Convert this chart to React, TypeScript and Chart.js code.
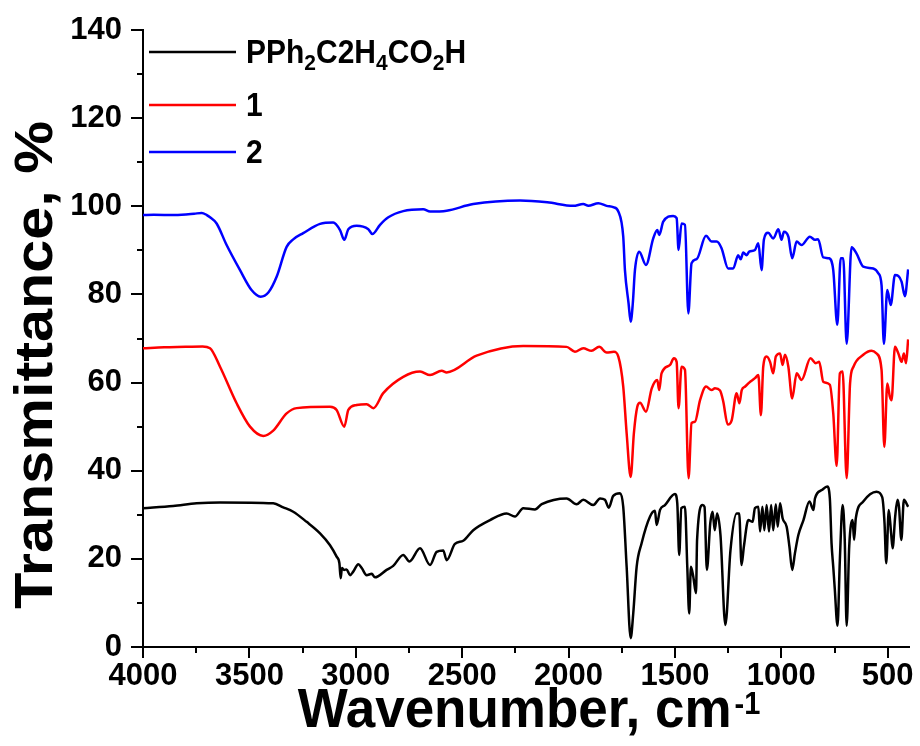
import { useEffect, useRef } from "react";
import { Chart, registerables } from "chart.js";

Chart.register(...registerables);

const FONT = '"Liberation Sans", Arial, Helvetica, sans-serif';

// ---- data (wavenumber, cm-1 / transmittance, %) ----
const waveBlack = [4000, 3858, 3748, 3638, 3388, 3341, 3294, 3231, 3168, 3121, 3090, 3077, 3071, 3065, 3055, 3043, 3027, 3012, 2988, 2972, 2949, 2925, 2910, 2855, 2824, 2777, 2748, 2698, 2651, 2620, 2589, 2573, 2534, 2495, 2448, 2369, 2291, 2252, 2213, 2158, 2126, 2009, 1962, 1931, 1884, 1852, 1829, 1811, 1790, 1758, 1743, 1727, 1708, 1696, 1680, 1657, 1617, 1594, 1586, 1570, 1547, 1500, 1489, 1480, 1470, 1453, 1442, 1433, 1425, 1414, 1401, 1396, 1370, 1361, 1350, 1334, 1323, 1313, 1302, 1286, 1263, 1239, 1210, 1198, 1187, 1176, 1155, 1135, 1124, 1108, 1100, 1089, 1080, 1069, 1058, 1048, 1038, 1026, 1017, 1006, 994, 975, 962, 949, 936, 920, 896, 868, 849, 842, 810, 784, 772, 764, 756, 749, 736, 725, 712, 702, 693, 681, 665, 658, 650, 615, 553, 526, 515, 507, 495, 484, 477, 465, 454, 447, 436, 424, 404];
const transBlack = [31.5, 32.0, 32.6, 32.8, 32.6, 31.7, 30.7, 28.4, 25.8, 23.1, 20.5, 19.0, 15.6, 17.9, 17.5, 17.6, 16.3, 17.1, 18.8, 17.9, 16.3, 16.6, 15.8, 17.5, 18.4, 20.9, 19.4, 22.4, 18.6, 21.6, 21.9, 19.7, 23.4, 24.1, 26.5, 28.8, 30.3, 29.6, 31.5, 31.2, 32.4, 33.7, 32.4, 33.4, 32.2, 33.7, 33.4, 31.6, 34.3, 34.9, 31.8, 18.2, 2.0, 7.6, 18.2, 23.5, 29.6, 30.9, 27.7, 31.1, 32.2, 34.7, 32.6, 20.9, 31.5, 31.8, 18.2, 7.6, 18.2, 16.0, 12.2, 24.3, 32.2, 31.8, 17.5, 28.1, 30.7, 26.5, 30.3, 25.4, 5.0, 22.0, 30.3, 30.3, 18.6, 22.8, 28.8, 28.4, 31.5, 31.8, 26.2, 31.8, 26.5, 32.2, 26.2, 32.2, 26.5, 32.4, 27.3, 32.6, 29.2, 27.3, 22.8, 17.5, 21.3, 25.4, 28.8, 33.0, 31.1, 33.7, 35.6, 36.4, 33.7, 23.5, 18.2, 13.3, 4.8, 19.7, 32.2, 24.3, 4.8, 22.8, 28.8, 24.3, 29.2, 33.0, 35.2, 34.0, 28.1, 19.0, 31.1, 25.8, 22.4, 29.6, 33.4, 31.8, 24.3, 33.4, 31.8];

const waveRed = [4000, 3900, 3800, 3720, 3685, 3638, 3560, 3497, 3435, 3388, 3325, 3278, 3121, 3090, 3054, 3035, 2996, 2949, 2917, 2871, 2777, 2698, 2651, 2596, 2573, 2432, 2213, 2009, 1970, 1931, 1892, 1856, 1821, 1787, 1766, 1743, 1727, 1708, 1693, 1677, 1664, 1636, 1609, 1583, 1574, 1563, 1523, 1505, 1492, 1483, 1469, 1453, 1436, 1422, 1406, 1382, 1354, 1328, 1312, 1288, 1273, 1252, 1233, 1210, 1197, 1186, 1170, 1151, 1124, 1108, 1096, 1085, 1069, 1053, 1038, 1026, 1006, 994, 983, 967, 949, 928, 905, 863, 838, 822, 803, 772, 756, 740, 725, 712, 693, 677, 661, 615, 576, 553, 529, 516, 502, 490, 482, 466, 450, 435, 424, 414, 404];
const transRed = [67.8, 68.0, 68.1, 68.2, 67.8, 63.6, 55.3, 50.0, 47.9, 49.1, 53.0, 54.2, 54.5, 53.8, 50.0, 53.8, 54.9, 55.1, 54.2, 57.6, 61.3, 62.5, 61.7, 62.7, 62.3, 66.1, 68.3, 68.1, 67.0, 67.8, 67.2, 68.1, 66.8, 67.0, 65.9, 59.1, 48.5, 38.6, 48.5, 54.5, 55.4, 53.4, 58.7, 60.6, 58.3, 62.1, 64.0, 65.5, 64.7, 54.2, 63.6, 62.9, 38.3, 50.8, 51.1, 56.0, 59.1, 58.3, 58.7, 58.2, 55.7, 50.5, 51.5, 57.6, 55.3, 58.3, 59.1, 60.0, 61.0, 61.7, 52.6, 63.6, 65.9, 64.7, 62.1, 65.9, 66.6, 64.0, 66.3, 63.6, 56.4, 62.1, 60.6, 65.5, 64.4, 64.7, 60.2, 59.5, 53.0, 41.1, 62.1, 62.5, 38.3, 59.8, 63.6, 66.3, 67.2, 66.6, 62.9, 45.4, 59.8, 56.8, 56.0, 68.1, 66.6, 64.7, 66.6, 64.4, 69.8];

const waveBlue = [4000, 3950, 3850, 3760, 3724, 3700, 3685, 3654, 3607, 3544, 3490, 3447, 3410, 3372, 3325, 3294, 3247, 3168, 3106, 3074, 3054, 3035, 2996, 2941, 2922, 2886, 2847, 2777, 2683, 2651, 2573, 2448, 2228, 2100, 1978, 1931, 1907, 1860, 1821, 1790, 1766, 1743, 1735, 1718, 1708, 1698, 1688, 1668, 1636, 1602, 1583, 1574, 1555, 1508, 1492, 1483, 1469, 1453, 1437, 1422, 1398, 1354, 1328, 1304, 1281, 1250, 1226, 1203, 1191, 1179, 1163, 1151, 1124, 1108, 1093, 1082, 1062, 1038, 1014, 999, 988, 967, 949, 928, 905, 866, 842, 827, 803, 775, 756, 737, 721, 709, 693, 670, 647, 615, 568, 544, 529, 518, 502, 486, 466, 450, 435, 419, 404];
const transBlue = [98.0, 98.1, 98.0, 98.3, 98.5, 98.0, 97.5, 96.1, 91.2, 85.5, 81.0, 79.5, 80.5, 84.0, 90.8, 92.5, 93.9, 96.0, 96.3, 94.6, 92.4, 94.8, 95.6, 94.8, 93.7, 95.8, 97.5, 98.9, 99.3, 98.8, 99.0, 100.5, 101.3, 100.9, 100.1, 100.5, 100.1, 100.7, 100.1, 99.8, 98.8, 93.1, 85.5, 78.0, 73.8, 78.0, 85.5, 89.7, 86.7, 92.7, 94.6, 93.5, 96.5, 97.8, 97.3, 90.1, 96.1, 95.8, 75.7, 87.1, 88.0, 93.3, 92.0, 92.0, 90.5, 85.9, 85.9, 88.9, 88.0, 89.5, 88.9, 89.7, 90.1, 91.6, 85.5, 92.4, 94.0, 92.7, 94.8, 92.4, 94.2, 93.1, 88.2, 92.0, 91.2, 93.1, 92.4, 92.5, 88.4, 88.2, 85.5, 73.1, 88.2, 88.2, 68.8, 90.7, 89.3, 86.3, 85.9, 84.8, 82.1, 68.8, 81.0, 77.6, 84.4, 84.2, 82.9, 79.6, 85.7];

const seriesLabels = ["PPh₂C2H₄CO₂H", "1", "2"];
const seriesColors = ["#000000", "#ff0000", "#0000ff"];
// legend text pieces: [text, isSubscript]
const legendParts: [string, boolean][][] = [
  [["PPh", false], ["2", true], ["C2H", false], ["4", true], ["CO", false], ["2", true], ["H", false]],
  [["1", false]],
  [["2", false]],
];

const xTickValues = [4000, 3500, 3000, 2500, 2000, 1500, 1000, 500];
const yTickValues = [0, 20, 40, 60, 80, 100, 120, 140];
const xTitle = "Wavenumber, cm";
const xTitleSup = "-1";
const yTitle = "Transmittance, %";

const legendRowOffsets = [22, 75, 122];

const decorPlugin = {
  id: "decor",
  afterDraw(chart: any) {
    const ctx: CanvasRenderingContext2D = chart.ctx;
    const xs = chart.scales.x;
    const ys = chart.scales.y;
    const area = chart.chartArea;
    ctx.save();
    ctx.strokeStyle = "#000";
    ctx.lineWidth = 2;
    ctx.beginPath();
    xTickValues.forEach((v) => {
      const px = Math.round(xs.getPixelForValue(v));
      ctx.moveTo(px, area.bottom);
      ctx.lineTo(px, area.bottom + 11);
      const m = v - 250;
      if (m >= xs.min) {
        const pm = Math.round(xs.getPixelForValue(m));
        ctx.moveTo(pm, area.bottom);
        ctx.lineTo(pm, area.bottom + 6);
      }
    });
    yTickValues.forEach((v) => {
      const py = Math.round(ys.getPixelForValue(v));
      ctx.moveTo(area.left, py);
      ctx.lineTo(area.left - 12, py);
      const m = v + 10;
      if (m <= ys.max) {
        const pm = Math.round(ys.getPixelForValue(m));
        ctx.moveTo(area.left, pm);
        ctx.lineTo(area.left - 6, pm);
      }
    });
    ctx.stroke();

    // legend
    const ds = chart.data.datasets;
    ds.forEach((d: any, i: number) => {
      const rowY = area.top + legendRowOffsets[i];
      ctx.strokeStyle = d.borderColor;
      ctx.lineWidth = 2.5;
      ctx.beginPath();
      ctx.moveTo(area.left + 6, rowY);
      ctx.lineTo(area.left + 93, rowY);
      ctx.stroke();
      let tx = area.left + 103;
      ctx.fillStyle = "#000";
      ctx.textBaseline = "alphabetic";
      ctx.textAlign = "left";
      legendParts[i].forEach(([t, sub]) => {
        ctx.font = `bold ${sub ? 21 : 30}px ${FONT}`;
        const by = rowY + 11 + (sub ? 7 : 0);
        ctx.save();
        ctx.translate(tx, by);
        ctx.scale(1, 1.08);
        ctx.fillText(t, 0, 0);
        ctx.restore();
        tx += ctx.measureText(t).width;
      });
    });

    // x axis title
    ctx.fillStyle = "#000";
    ctx.font = `bold 53px ${FONT}`;
    const mainW = ctx.measureText(xTitle).width;
    ctx.font = `bold 29px ${FONT}`;
    const supW = ctx.measureText(xTitleSup).width;
    const cx = (area.left + area.right) / 2 + 3;
    const startX = cx - (mainW + supW + 3) / 2;
    ctx.textAlign = "left";
    ctx.textBaseline = "alphabetic";
    ctx.save();
    ctx.translate(startX, 727);
    ctx.scale(1, 1.06);
    ctx.font = `bold 53px ${FONT}`;
    ctx.fillText(xTitle, 0, 0);
    ctx.font = `bold 29px ${FONT}`;
    ctx.fillText(xTitleSup, mainW + 3, -12);
    ctx.restore();

    // y axis title
    ctx.save();
    ctx.translate(52, 365);
    ctx.rotate(-Math.PI / 2);
    ctx.scale(1.12, 1);
    ctx.font = `bold 53px ${FONT}`;
    ctx.textAlign = "center";
    ctx.fillText(yTitle, 0, 0);
    ctx.restore();

    ctx.restore();
  },
};

export default function App() {
  const ref = useRef<HTMLCanvasElement | null>(null);
  useEffect(() => {
    if (!ref.current) return;
    const mk = (w: number[], t: number[]) => w.map((x, i) => ({ x, y: t[i] }));
    const chart = new Chart(ref.current, {
      type: "line",
      data: {
        datasets: [
          { label: seriesLabels[0], data: mk(waveBlack, transBlack), borderColor: seriesColors[0] },
          { label: seriesLabels[1], data: mk(waveRed, transRed), borderColor: seriesColors[1] },
          { label: seriesLabels[2], data: mk(waveBlue, transBlue), borderColor: seriesColors[2] },
        ].map((d) => ({ ...d, borderWidth: 2.5, pointRadius: 0, fill: false, cubicInterpolationMode: "monotone" as const })),
      },
      options: {
        responsive: false,
        animation: false,
        layout: { padding: { top: 30, right: 11, bottom: 0, left: 0 } },
        plugins: { legend: { display: false }, tooltip: { enabled: false } },
        scales: {
          x: {
            type: "linear",
            reverse: true,
            min: 400,
            max: 4000,
            grid: { display: true, drawOnChartArea: false, drawTicks: false },
            border: { display: true, color: "#000", width: 2 },
            ticks: {
              color: "#000",
              font: { family: FONT, size: 31, weight: "bold" },
              padding: 11,
              maxRotation: 0,
              autoSkip: false,
              callback: (v: any) => String(v),
            },
            afterBuildTicks: (s: any) => {
              s.ticks = xTickValues.map((value) => ({ value }));
            },
            afterFit: (s: any) => {
              s.height = 99;
              s.paddingLeft = 0;
              s.paddingRight = 0;
            },
          },
          y: {
            type: "linear",
            min: 0,
            max: 140,
            grid: { display: true, drawOnChartArea: false, drawTicks: false },
            border: { display: true, color: "#000", width: 2 },
            ticks: {
              color: "#000",
              font: { family: FONT, size: 31, weight: "bold" },
              padding: 21,
              callback: (v: any) => String(v),
            },
            afterBuildTicks: (s: any) => {
              s.ticks = yTickValues.map((value) => ({ value }));
            },
            afterFit: (s: any) => {
              s.width = 143;
              s.paddingTop = 0;
              s.paddingBottom = 0;
            },
          },
        },
      },
      plugins: [decorPlugin],
    });
    return () => chart.destroy();
  }, []);
  return (
    <div style={{ position: "fixed", left: 0, top: 0, width: 920, height: 746, background: "#fff" }}>
      <canvas ref={ref} width={920} height={746} style={{ display: "block" }} />
    </div>
  );
}
